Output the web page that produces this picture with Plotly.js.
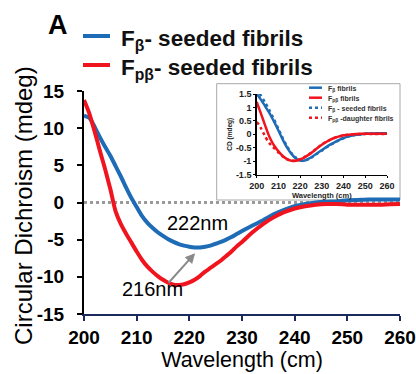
<!DOCTYPE html>
<html>
<head>
<meta charset="utf-8">
<script src="https://cdn.plot.ly/plotly-3.0.1.min.js"></script>
<style>
  html, body { margin: 0; padding: 0; background: #ffffff; }
  #chart { width: 416px; height: 374px; }
</style>
</head>
<body>
<div id="chart"></div>
<script>
// ---------------- DATA ----------------
// Main panel: wavelength (nm) and CD (mdeg)
const mainWl = [200,201,202,203,204,205,206,207,208,209,210,211,212,213,214,215,216,217,218,219,220,221,222,223,224,225,226,227,228,229,230,232,234,236,238,240,242,244,246,248,250,252,254,256,258,260];
const fBetaSeeded = [11.7,11.4,10.2,8.8,7.5,6.3,4.9,3.5,2.0,0.6,-0.6,-1.8,-2.7,-3.4,-4.0,-4.5,-4.95,-5.3,-5.6,-5.8,-5.95,-6.05,-6.05,-5.95,-5.8,-5.55,-5.3,-5.0,-4.65,-4.25,-3.85,-3.1,-2.4,-1.6,-1.0,-0.5,-0.2,0.0,0.1,0.15,0.3,0.35,0.4,0.4,0.4,0.4];
const fPBetaSeeded = [13.8,12.0,9.6,7.0,4.5,1.8,-1.2,-2.9,-4.2,-5.4,-6.6,-7.7,-8.6,-9.3,-9.9,-10.4,-10.8,-11.05,-11.1,-11.0,-10.75,-10.4,-9.9,-9.3,-8.8,-8.3,-7.8,-7.2,-6.6,-5.9,-5.3,-4.0,-2.9,-2.0,-1.3,-0.8,-0.5,-0.3,-0.2,-0.2,-0.3,-0.3,-0.3,-0.3,-0.25,-0.2];

// Inset: normalised CD
const insetWl = [200,201,202,203,204,205,206,207,208,210,212,214,216,218,220,222,224,226,228,230,232,234,236,238,240,242,244,246,248,250,252,254,256,258,260];
const insetFBeta = [1.5,1.4,1.28,1.16,1.03,0.9,0.77,0.62,0.47,0.14,-0.2,-0.5,-0.73,-0.9,-0.98,-0.98,-0.91,-0.81,-0.7,-0.59,-0.48,-0.38,-0.29,-0.21,-0.14,-0.09,-0.05,-0.02,0,0.02,0.03,0.03,0.04,0.04,0.04];
const insetFPBeta = [1.2,0.98,0.76,0.53,0.3,0.08,-0.12,-0.28,-0.42,-0.64,-0.81,-0.93,-0.99,-0.99,-0.94,-0.86,-0.76,-0.64,-0.51,-0.39,-0.29,-0.2,-0.13,-0.08,-0.04,-0.02,0,0.01,0.02,0.02,0.02,0.02,0.02,0.02,0.02];
const insetFBetaSeeded = [1.7,1.57,1.43,1.3,1.16,1.02,0.87,0.71,0.55,0.2,-0.15,-0.46,-0.7,-0.87,-0.96,-0.98,-0.93,-0.83,-0.72,-0.61,-0.5,-0.4,-0.3,-0.22,-0.15,-0.09,-0.05,-0.02,0,0.02,0.03,0.03,0.04,0.04,0.04];
const insetFPBetaDaughter = [0.45,0.36,0.22,0.06,-0.1,-0.24,-0.35,-0.44,-0.52,-0.68,-0.83,-0.94,-0.99,-0.98,-0.93,-0.85,-0.75,-0.63,-0.5,-0.38,-0.28,-0.2,-0.13,-0.08,-0.04,-0.02,-0.01,0,0.01,0.01,0.01,0.01,0.01,0.01,0.01];

// Tick labels
const xTickVals = [200,210,220,230,240,250,260];
const xTickText = ['200','210','220','230','240','250','260'];
const yTickVals = [-15,-10,-5,0,5,10,15];
const yTickText = ['-15','-10','-5','0','5','10','15'];
const insetYTickVals = [-1.5,-1,-0.5,0,0.5,1,1.5];
const insetYTickText = ['-1.5','-1','-0.5','0','0.5','1','1.5'];

// Axis titles, legend labels & annotations
const xTitle = 'Wavelength (cm)';
const yTitle = 'Circular Dichroism (mdeg)';
const insetYTitle = 'CD (mdeg)';
const mainLegend = ['F<sub>β</sub>- seeded fibrils', 'F<sub>pβ</sub>- seeded fibrils'];
const insetLegend = ['F<sub>β</sub> fibrils', 'F<sub>pβ</sub> fibrils', 'F<sub>β</sub> - seeded fibrils', 'F<sub>pβ</sub> -daughter fibrils'];
const peakLabels = ['222nm', '216nm'];

// ---------------- STYLE ----------------
const FONT = 'Liberation Sans, Arial, Helvetica, sans-serif';
const BLUE = '#1e6cb6';
const RED = '#f0141e';
const NAVY = '#1b2a5c';

const W = 416, H = 374;
const M = {l: 84, r: 16, t: 91, b: 60};
const PW = W - M.l - M.r, PH = H - M.t - M.b;
const px = x => (x - M.l) / PW;          // pixel -> paper x
const py = y => (H - M.b - y) / PH;      // pixel -> paper y

const traces = [
  {x: mainWl, y: fBetaSeeded, type: 'scatter', mode: 'lines', xaxis: 'x', yaxis: 'y',
   line: {color: BLUE, width: 4, shape: 'spline', smoothing: 0.6}, name: 'Fβ- seeded fibrils'},
  {x: mainWl, y: fPBetaSeeded, type: 'scatter', mode: 'lines', xaxis: 'x', yaxis: 'y',
   line: {color: RED, width: 4, shape: 'spline', smoothing: 0.6}, name: 'Fpβ- seeded fibrils'},
  {x: insetWl, y: insetFBeta, type: 'scatter', mode: 'lines', xaxis: 'x2', yaxis: 'y2',
   line: {color: BLUE, width: 2.5, shape: 'spline', smoothing: 0.6}},
  {x: insetWl, y: insetFBetaSeeded, type: 'scatter', mode: 'lines', xaxis: 'x2', yaxis: 'y2',
   line: {color: BLUE, width: 2.5, dash: 'dot', shape: 'spline', smoothing: 0.6}},
  {x: insetWl, y: insetFPBeta, type: 'scatter', mode: 'lines', xaxis: 'x2', yaxis: 'y2',
   line: {color: RED, width: 2.5, shape: 'spline', smoothing: 0.6}},
  {x: insetWl, y: insetFPBetaDaughter, type: 'scatter', mode: 'lines', xaxis: 'x2', yaxis: 'y2',
   line: {color: RED, width: 2.5, dash: 'dot', shape: 'spline', smoothing: 0.6}}
];

const shapes = [
  // inset frame
  {type: 'rect', xref: 'paper', yref: 'paper', x0: px(216.7), x1: px(400), y0: py(200), y1: py(83.7),
   line: {color: '#a8a8a8', width: 1}, fillcolor: '#ffffff', layer: 'below'},
  // zero reference line
  {type: 'line', xref: 'x', yref: 'y', x0: 200, x1: 260, y0: 0, y1: 0,
   line: {color: '#9a9a9a', width: 3, dash: 'dot'}, layer: 'below'},
  // main legend swatches
  {type: 'line', xref: 'paper', yref: 'paper', x0: px(83), x1: px(110), y0: py(36), y1: py(36),
   line: {color: BLUE, width: 4}},
  {type: 'line', xref: 'paper', yref: 'paper', x0: px(83), x1: px(110), y0: py(65), y1: py(65),
   line: {color: RED, width: 4}}
];
// inset legend swatches
const insetRows = [87.7, 97.7, 107.7, 117.7];
const insetColors = [BLUE, RED, BLUE, RED];
const insetDash = ['solid', 'solid', 'dot', 'dot'];
insetRows.forEach((r, i) => {
  shapes.push({type: 'line', xref: 'paper', yref: 'paper', x0: px(309), x1: px(322), y0: py(r), y1: py(r),
    line: {color: insetColors[i], width: 2.5, dash: insetDash[i]}});
});

const annotations = [
  {xref: 'paper', yref: 'paper', x: px(57.5), y: py(25), text: 'A', showarrow: false,
   xanchor: 'center', yanchor: 'middle', font: {family: FONT, size: 27, weight: 'bold', color: '#000'}},
  {xref: 'paper', yref: 'paper', x: px(119), y: py(40), text: mainLegend[0], showarrow: false,
   xanchor: 'left', yanchor: 'middle', font: {family: FONT, size: 22.5, weight: 'bold', color: '#111'}},
  {xref: 'paper', yref: 'paper', x: px(119), y: py(69), text: mainLegend[1], showarrow: false,
   xanchor: 'left', yanchor: 'middle', font: {family: FONT, size: 22.5, weight: 'bold', color: '#111'}},
  // main y-axis title
  {xref: 'paper', yref: 'paper', x: px(23), y: py(206), text: yTitle, showarrow: false, textangle: -90,
   xanchor: 'center', yanchor: 'middle', font: {family: FONT, size: 24, color: '#000'}},
  {xref: 'x', yref: 'y', x: 221.6, y: -2.76, text: peakLabels[0], showarrow: false,
   xanchor: 'center', yanchor: 'middle', font: {family: FONT, size: 20, color: '#000'}},
  {xref: 'x', yref: 'y', x: 213.0, y: -11.64, text: peakLabels[1], showarrow: false,
   xanchor: 'center', yanchor: 'middle', font: {family: FONT, size: 20, color: '#000'}},
  {xref: 'x', yref: 'y', axref: 'x', ayref: 'y', x: 221.1, y: -6.83, ax: 215.8, ay: -11.0,
   text: '', showarrow: true, arrowhead: 2, arrowsize: 1, arrowwidth: 2, arrowcolor: '#8a8a8a', standoff: 0}
];
insetRows.forEach((r, i) => {
  annotations.push({xref: 'paper', yref: 'paper', x: px(325.5), y: py(r + 1), text: insetLegend[i], showarrow: false,
    xanchor: 'left', yanchor: 'middle', font: {family: FONT, size: 7, weight: 'bold', color: '#333'}});
});

const layout = {
  width: W, height: H,
  margin: M,
  paper_bgcolor: '#ffffff', plot_bgcolor: 'rgba(0,0,0,0)',
  showlegend: false,
  font: {family: FONT, color: '#000'},
  xaxis: {
    domain: [0, 1], anchor: 'y', range: [200, 260],
    tickmode: 'array', tickvals: xTickVals, ticktext: xTickText,
    ticks: 'outside', ticklen: 5, tickwidth: 2, tickcolor: NAVY,
    showline: true, linecolor: NAVY, linewidth: 2, mirror: false,
    showgrid: false, zeroline: false,
    tickfont: {family: FONT, size: 19, weight: 'bold', color: '#000'},
    title: {text: xTitle, font: {family: FONT, size: 21.5, color: '#000'}, standoff: 3}
  },
  yaxis: {
    domain: [0, 1], anchor: 'x', range: [-15, 15],
    tickmode: 'array', tickvals: yTickVals, ticktext: yTickText,
    // long transparent major ticks set the label gap; the visible short ticks are the minor ones
    ticks: 'outside', ticklen: 14, tickwidth: 2, tickcolor: 'rgba(0,0,0,0)',
    minor: {tickmode: 'array', tickvals: yTickVals, ticks: 'outside', ticklen: 5, tickwidth: 2,
            tickcolor: '#000', showgrid: false},
    showline: true, linecolor: '#000', linewidth: 2,
    showgrid: false, zeroline: false,
    tickfont: {family: FONT, size: 19, weight: 'bold', color: '#000'}
  },
  xaxis2: {
    domain: [px(256.7), px(387)], anchor: 'y2', range: [200, 260],
    tickmode: 'array', tickvals: xTickVals, ticktext: xTickText,
    ticks: 'outside', ticklen: 2, tickwidth: 1, tickcolor: '#000',
    showline: true, linecolor: '#000', linewidth: 1.5,
    showgrid: false, zeroline: false,
    tickfont: {family: FONT, size: 9, weight: 'bold', color: '#222'},
    title: {text: xTitle, font: {family: FONT, size: 7.5, weight: 'bold', color: '#222'}, standoff: 1}
  },
  yaxis2: {
    domain: [py(174.5), py(94)], anchor: 'x2', range: [-1.5, 1.5],
    tickmode: 'array', tickvals: insetYTickVals, ticktext: insetYTickText,
    ticks: 'outside', ticklen: 2, tickwidth: 1, tickcolor: '#000',
    showline: true, linecolor: '#000', linewidth: 1.5,
    showgrid: false, zeroline: false,
    tickfont: {family: FONT, size: 9, weight: 'bold', color: '#222'},
    title: {text: insetYTitle, font: {family: FONT, size: 6.5, weight: 'bold', color: '#222'}, standoff: 2}
  },
  shapes: shapes,
  annotations: annotations
};

Plotly.newPlot('chart', traces, layout, {displayModeBar: false, staticPlot: true});
</script>
</body>
</html>
